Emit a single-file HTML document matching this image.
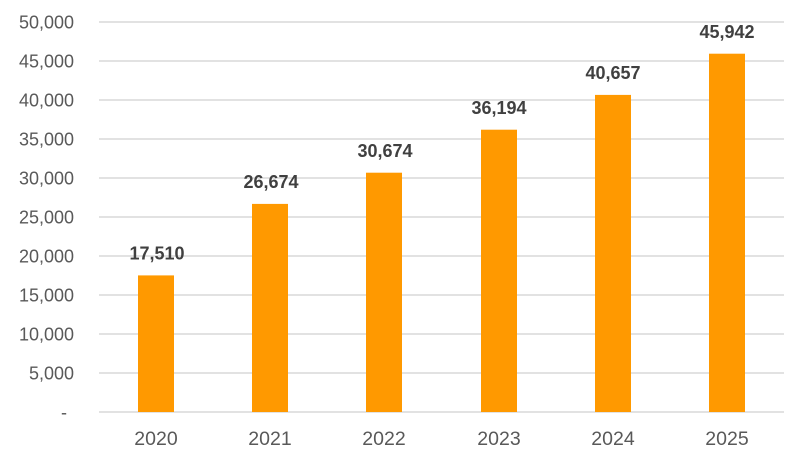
<!DOCTYPE html>
<html><head><meta charset="utf-8"><style>
html,body{margin:0;padding:0;background:#fff;}
svg{display:block;}
</style></head><body>
<svg width="793" height="458" viewBox="0 0 793 458" xmlns="http://www.w3.org/2000/svg">
<rect width="793" height="458" fill="#fff"/>
<g stroke="#d9d9d9" stroke-width="1.4">
<line x1="99" y1="22" x2="784" y2="22"/>
<line x1="99" y1="61" x2="784" y2="61"/>
<line x1="99" y1="100" x2="784" y2="100"/>
<line x1="99" y1="139" x2="784" y2="139"/>
<line x1="99" y1="178" x2="784" y2="178"/>
<line x1="99" y1="217" x2="784" y2="217"/>
<line x1="99" y1="256" x2="784" y2="256"/>
<line x1="99" y1="295" x2="784" y2="295"/>
<line x1="99" y1="334" x2="784" y2="334"/>
<line x1="99" y1="373" x2="784" y2="373"/>
<line x1="99" y1="412" x2="784" y2="412"/>
</g>
<g font-family="Liberation Sans, Arial, sans-serif" font-size="18" fill="#595959" text-anchor="end">
<text x="74" y="28.5">50,000</text>
<text x="74" y="67.5">45,000</text>
<text x="74" y="106.5">40,000</text>
<text x="74" y="145.5">35,000</text>
<text x="74" y="184.5">30,000</text>
<text x="74" y="223.5">25,000</text>
<text x="74" y="262.5">20,000</text>
<text x="74" y="301.5">15,000</text>
<text x="74" y="340.5">10,000</text>
<text x="74" y="379.5">5,000</text>
<text x="67" y="418.5">-</text>
</g>
<g fill="#ff9900">
<rect x="138" y="275.4" width="36" height="136.6"/>
<rect x="252" y="203.9" width="36" height="208.1"/>
<rect x="366" y="172.7" width="36" height="239.3"/>
<rect x="481" y="129.7" width="36" height="282.3"/>
<rect x="595" y="94.9" width="36" height="317.1"/>
<rect x="709" y="53.7" width="36" height="358.3"/>
</g>
<g font-family="Liberation Sans, Arial, sans-serif" font-size="18" font-weight="bold" fill="#404040" text-anchor="middle">
<text x="157" y="259.5">17,510</text>
<text x="271" y="188">26,674</text>
<text x="385" y="157">30,674</text>
<text x="499" y="114">36,194</text>
<text x="613" y="79">40,657</text>
<text x="727" y="38">45,942</text>
</g>
<g font-family="Liberation Sans, Arial, sans-serif" font-size="19.5" fill="#595959" text-anchor="middle">
<text x="156" y="445">2020</text>
<text x="270" y="445">2021</text>
<text x="384" y="445">2022</text>
<text x="499" y="445">2023</text>
<text x="613" y="445">2024</text>
<text x="727" y="445">2025</text>
</g>
</svg>
</body></html>
